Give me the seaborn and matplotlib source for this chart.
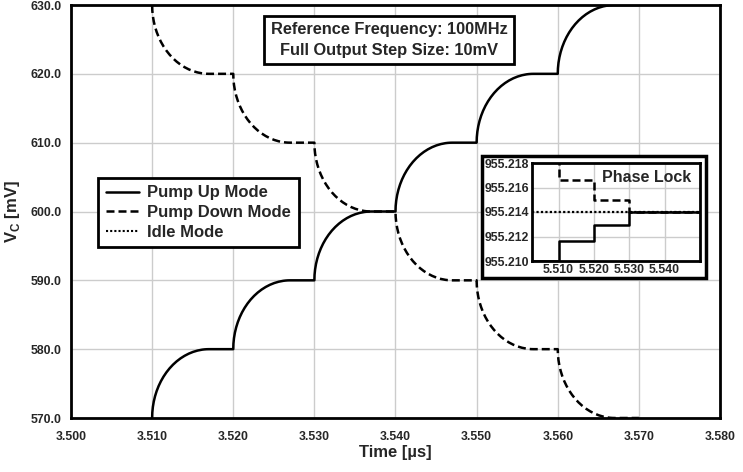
import numpy as np
import pandas as pd
import matplotlib
matplotlib.use("Agg")
import matplotlib.pyplot as plt
from matplotlib.patches import Rectangle
from matplotlib.lines import Line2D
import seaborn as sns

# ---------------- data ----------------
step_times = [3.510, 3.520, 3.530, 3.540, 3.550, 3.560]   # us
up_levels = [570, 580, 590, 600, 610, 620, 630]            # mV
down_levels = [630, 620, 610, 600, 590, 580, 570]          # mV
settle_time = 0.007                                        # us, arc duration
hold_end = 3.570

inset_up_t = [5.5025, 5.510, 5.520, 5.530, 5.550]
inset_up_v = [955.2100, 955.2116, 955.2129, 955.2140, 955.2140]
inset_down_t = [5.510, 5.510, 5.520, 5.530, 5.550]
inset_down_v = [955.2195, 955.2166, 955.2150, 955.2140, 955.2140]
inset_idle_t = [5.5025, 5.550]
inset_idle_v = [955.2140, 955.2140]

x_ticks = [3.500, 3.510, 3.520, 3.530, 3.540, 3.550, 3.560, 3.570, 3.580]
y_ticks = [570, 580, 590, 600, 610, 620, 630]
inset_x_ticks = [5.510, 5.520, 5.530, 5.540]
inset_y_ticks = [955.210, 955.212, 955.214, 955.216, 955.218]


def staircase(times, levels):
    """Quarter-ellipse charge arcs from each step start to the next level."""
    xs, ys = [], []
    theta = np.linspace(0, np.pi / 2, 40)
    for i, t0 in enumerate(times):
        a, b = levels[i], levels[i + 1]
        xs.extend(t0 + settle_time * (1 - np.cos(theta)))
        ys.extend(a + (b - a) * np.sin(theta))
        t_next = times[i + 1] if i + 1 < len(times) else hold_end
        xs.append(t_next)
        ys.append(b)
    return pd.DataFrame({"t": xs, "v": ys})


up_df = staircase(step_times, up_levels)
down_df = staircase(step_times, down_levels)

# ---------------- style ----------------
sns.set_style("white")
plt.rcParams["font.family"] = ["Liberation Sans", "DejaVu Sans"]
plt.rcParams["font.weight"] = "bold"
plt.rcParams["mathtext.fontset"] = "custom"
plt.rcParams["mathtext.rm"] = "Liberation Sans:bold"
plt.rcParams["mathtext.bf"] = "Liberation Sans:bold"

fig = plt.figure(figsize=(7.43, 4.72), dpi=100)
ax = fig.add_axes([71 / 743, 1 - 418 / 472, (720 - 71) / 743, (418 - 5) / 472])

grid_c = "#cccccc"
ax.grid(True, color=grid_c, linewidth=1.0)
ax.set_axisbelow(True)

dash = (0, (3.2, 1.6))
sns.lineplot(data=up_df, x="t", y="v", ax=ax, color="black", linewidth=1.8,
             estimator=None, sort=False)
sns.lineplot(data=down_df, x="t", y="v", ax=ax, color="black", linewidth=1.8,
             linestyle=dash, estimator=None, sort=False)

ax.set_xlim(3.500, 3.580)
ax.set_ylim(570, 630)
ax.set_xticks(x_ticks)
ax.set_xticklabels([f"{v:.3f}" for v in x_ticks])
ax.set_yticks(y_ticks)
ax.set_yticklabels([f"{v:.1f}" for v in y_ticks])
ax.tick_params(axis="both", length=0, labelsize=8.8)
ax.tick_params(axis="x", pad=9)
ax.tick_params(axis="y", pad=7)
for s in ax.spines.values():
    s.set_visible(True)
    s.set_color("black")
    s.set_linewidth(2.0)
ax.set_xlabel("Time [µs]", fontsize=12, fontweight="bold", labelpad=2)
ax.set_ylabel(r"V$_\mathregular{C}$ [mV]", fontsize=12, fontweight="bold", labelpad=6)

# legend
handles = [
    Line2D([], [], color="black", linewidth=1.8, linestyle="-"),
    Line2D([], [], color="black", linewidth=1.8, linestyle=dash),
    Line2D([], [], color="black", linewidth=1.5, linestyle=(0, (1, 1))),
]
leg = ax.legend(handles, ["Pump Up Mode", "Pump Down Mode", "Idle Mode"],
                loc="upper left", bbox_to_anchor=(98 / 743, 1 - 178 / 472),
                bbox_transform=fig.transFigure, fontsize=12, frameon=True,
                fancybox=False, edgecolor="black", framealpha=1,
                handlelength=2.0, handletextpad=0.5, borderpad=0.45,
                labelspacing=0.28, borderaxespad=0)
leg.get_frame().set_linewidth(2.0)

# info text box
fig.text(389 / 743, 1 - 40 / 472,
         "Reference Frequency: 100MHz\nFull Output Step Size: 10mV",
         ha="center", va="center", fontsize=11.8, fontweight="bold",
         linespacing=1.45,
         bbox=dict(boxstyle="square,pad=0.4", facecolor="white",
                   edgecolor="black", linewidth=2.0))

# inset frame
frame = Rectangle((482 / 743, 1 - 278 / 472), (706 - 482) / 743, (278 - 156) / 472,
                  transform=fig.transFigure, facecolor="white", edgecolor="black",
                  linewidth=2.5, zorder=3)
fig.add_artist(frame)

ins = fig.add_axes([532 / 743, 1 - 261 / 472, (700 - 532) / 743, (261 - 163) / 472],
                   zorder=4)
ins.grid(True, color=grid_c, linewidth=1.0)
ins.set_axisbelow(True)
sns.lineplot(x=inset_idle_t, y=inset_idle_v, ax=ins, color="black", linewidth=1.6,
             linestyle=(0, (1, 1)), estimator=None, sort=False)
sns.lineplot(x=inset_down_t, y=inset_down_v, ax=ins, color="black", linewidth=1.8,
             linestyle=dash, drawstyle="steps-post", estimator=None, sort=False)
sns.lineplot(x=inset_up_t, y=inset_up_v, ax=ins, color="black", linewidth=1.8,
             drawstyle="steps-post", estimator=None, sort=False)
ins.set_xlim(5.5025, 5.550)
ins.set_ylim(955.210, 955.218)
ins.set_xticks(inset_x_ticks)
ins.set_xticklabels([f"{v:.3f}" for v in inset_x_ticks])
ins.set_yticks(inset_y_ticks)
ins.set_yticklabels([f"{v:.3f}" for v in inset_y_ticks])
ins.tick_params(axis="both", length=0, labelsize=8.8, pad=2)
ins.set_xlabel("")
ins.set_ylabel("")
for s in ins.spines.values():
    s.set_visible(True)
    s.set_color("black")
    s.set_linewidth(2.0)
ins.text(0.95, 0.85, "Phase Lock", transform=ins.transAxes, ha="right", va="center",
         fontsize=11.5, fontweight="bold")

fig.savefig("out.png", dpi=100)
